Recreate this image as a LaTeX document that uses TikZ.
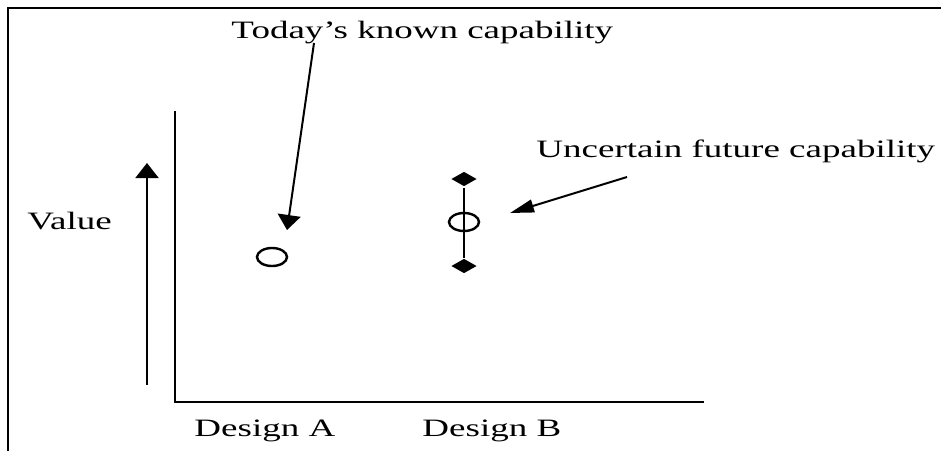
\documentclass[tikz,border=0pt]{standalone}
\usepackage{fontspec}
\setmainfont{Liberation Serif}
\usetikzlibrary{arrows.meta,shapes.geometric}

\begin{document}
\begin{tikzpicture}[x=0.5pt, y=-0.5pt, line width=1pt,
  lbl/.style={font=\fontsize{12.5}{14}\selectfont, xscale=1.48, inner sep=0pt, anchor=base west},
  capring/.style={draw, ellipse, line width=1.2pt, minimum width=15pt, minimum height=9pt, inner sep=0pt},
  gem/.style={fill, diamond, minimum width=13pt, minimum height=7.5pt, inner sep=0pt},
  vtip/.style={-{Triangle[length=7.5pt, width=11.5pt]}},
  htip/.style={-{Triangle[length=12pt, width=6.5pt]}}]
\useasboundingbox (0,0) rectangle (941,451);

% --- Frame (top and left edge only) ---
\draw[line width=1.3pt] (941,8) -- (8,8) -- (8,451);

% --- Axes ---
\draw (175,111) -- (175,402) -- (704,402);
\node[lbl] (design-a) at (193,436) {Design A};
\node[lbl] (design-b) at (421,436) {Design B};

% Value label with upward arrow
\node[lbl] (value) at (26,229) {Value};
\coordinate (vfoot) at (147,385);
\coordinate (vhead) at (147,163);
\draw[vtip] (vfoot) -- (vhead);

% --- Design A: known capability ---
\node[capring] (ring-a) at (272,257) {};
\node[lbl] (today) at (230,38) {Today’s known capability};
\coordinate (today-foot) at (314,43);
\coordinate (today-tip) at (287,230);
\draw[vtip] (today-foot) -- (today-tip);

% --- Design B: uncertain capability ---
\node[gem] (gem-top) at (464,179) {};
\node[gem] (gem-bot) at (464,266) {};
\draw (gem-top) -- (gem-bot);
\node[capring] (ring-b) at (464,222) {};
\node[lbl] (future) at (535,157) {Uncertain future capability};
\coordinate (future-foot) at (627,177);
\coordinate (future-tip) at (510,213);
\draw[htip] (future-foot) -- (future-tip);
\end{tikzpicture}
\end{document}
